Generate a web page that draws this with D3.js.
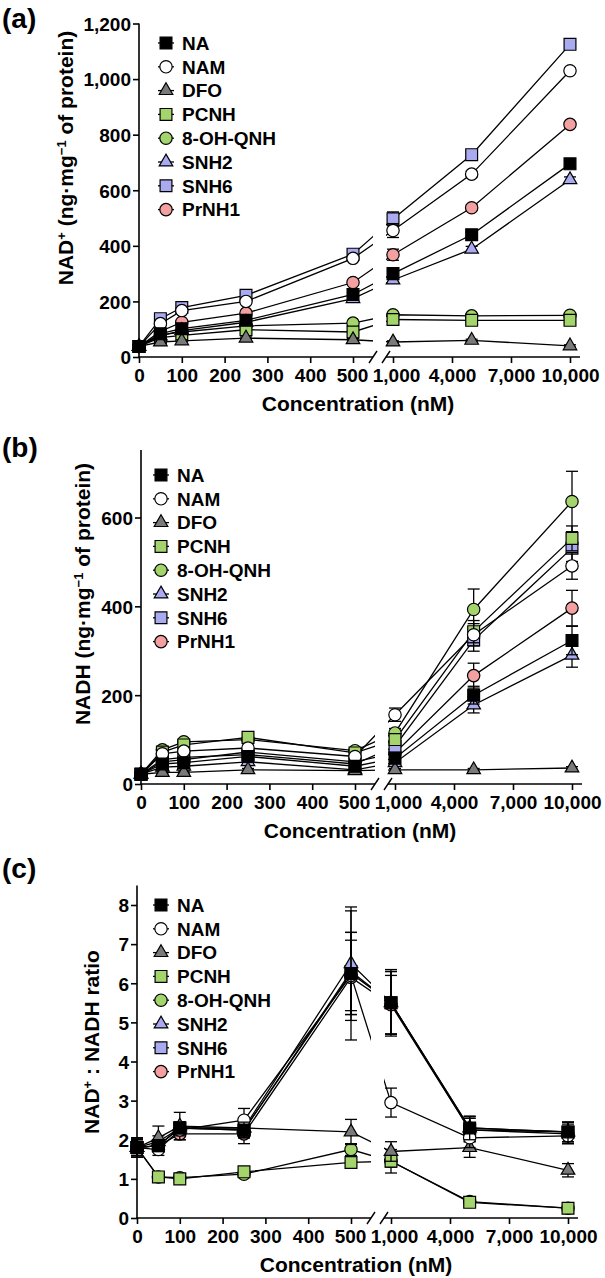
<!DOCTYPE html>
<html lang="en">
<head>
<meta charset="UTF-8">
<script src="https://cdnjs.cloudflare.com/ajax/libs/d3/7.8.5/d3.min.js"></script>
<title>NAD+ / NADH</title>
<style>
  body { margin: 0; background: #fff; }
  svg text { font-family: "Liberation Sans", Arial, sans-serif; font-weight: bold; fill: #000; }
</style>
</head>
<body>
<svg id="chart" width="605" height="1278"></svg>
<script>
    // concentrations (nM) and series
    var conc = [0, 50, 100, 250, 500, 1000, 5000, 10000];
    var seriesNames = ['NA', 'NAM', 'DFO', 'PCNH', '8-OH-QNH', 'SNH2', 'SNH6', 'PrNH1'];
    var seriesShapes = ['square', 'circle', 'triangle', 'square', 'circle', 'triangle', 'square', 'circle'];
    var seriesFills = ['#000000', '#ffffff', '#7a7a7a', '#a4d46c', '#a4d46c', '#aaaaf0', '#aaaaf0', '#f4a0a0'];

    var leftTicks = [0, 100, 200, 300, 400, 500];
    var rightTicks = [1000, 4000, 7000, 10000];

    // (a) NAD+ (ng/mg protein), rows follow seriesNames
    var nadMean = [
        [38, 84, 102, 132, 225, 300, 440, 695],
        [38, 120, 167, 200, 355, 455, 658, 1030],
        [38, 54, 58, 68, 62, 54, 60, 40],
        [38, 70, 78, 98, 90, 135, 132, 132],
        [38, 80, 90, 112, 122, 152, 148, 150],
        [38, 76, 95, 125, 210, 277, 388, 638],
        [38, 138, 178, 222, 370, 497, 728, 1125],
        [38, 92, 125, 158, 268, 368, 537, 837]
    ];
    var nadErr = [
        [5, 6, 6, 6, 8, 12, 10, 10],
        [5, 8, 8, 8, 8, 25, 10, 10],
        [4, 4, 4, 4, 4, 4, 4, 4],
        [4, 5, 5, 5, 5, 6, 6, 6],
        [4, 5, 5, 5, 6, 6, 6, 6],
        [5, 6, 6, 6, 8, 10, 10, 10],
        [5, 8, 8, 8, 8, 25, 10, 10],
        [5, 6, 6, 6, 8, 20, 10, 10]
    ];
    var nadTicks = [0, 200, 400, 600, 800, 1000, 1200];

    // (b) NADH (ng/mg protein)
    var nadhMean = [
        [22, 45, 48, 62, 40, 58, 200, 323],
        [22, 68, 74, 81, 62, 156, 336, 491],
        [22, 26, 26, 32, 30, 32, 32, 36],
        [22, 72, 88, 105, 70, 100, 343, 553],
        [22, 77, 95, 100, 75, 115, 393, 636],
        [22, 38, 40, 50, 32, 48, 178, 290],
        [22, 55, 60, 66, 45, 85, 324, 531],
        [22, 50, 55, 72, 50, 70, 244, 396]
    ];
    var nadhErr = [
        [4, 5, 5, 6, 5, 8, 20, 32],
        [4, 5, 5, 6, 5, 15, 25, 30],
        [3, 3, 3, 3, 3, 3, 3, 3],
        [4, 5, 5, 6, 5, 10, 25, 28],
        [4, 5, 5, 6, 5, 10, 46, 68],
        [4, 5, 5, 6, 5, 8, 18, 27],
        [4, 5, 5, 6, 5, 8, 25, 30],
        [4, 5, 5, 6, 5, 8, 28, 40]
    ];
    var nadhTicks = [0, 200, 400, 600];

    // (c) NAD+ : NADH ratio
    var ratioMean = [
        [1.8, 1.85, 2.3, 2.25, 6.25, 5.5, 2.3, 2.2],
        [1.8, 1.75, 2.25, 2.5, 6.2, 2.95, 2.05, 2.1],
        [1.8, 2.05, 2.35, 2.3, 2.2, 1.7, 1.8, 1.22],
        [1.8, 1.05, 1.0, 1.18, 1.42, 1.45, 0.4, 0.25],
        [1.8, 1.05, 1.03, 1.12, 1.75, 1.45, 0.42, 0.25],
        [1.8, 1.95, 2.3, 2.3, 6.5, 5.5, 2.3, 2.2],
        [1.8, 1.85, 2.3, 2.25, 6.3, 5.5, 2.25, 2.2],
        [1.8, 1.85, 2.15, 2.15, 6.15, 5.45, 2.25, 2.15]
    ];
    var ratioErr = [
        [0.25, 0.15, 0.15, 0.2, 1.05, 0.8, 0.3, 0.25],
        [0.25, 0.15, 0.15, 0.3, 1.65, 0.37, 0.25, 0.2],
        [0.25, 0.3, 0.35, 0.2, 0.32, 0.25, 0.25, 0.17],
        [0.2, 0.08, 0.08, 0.08, 0.1, 0.15, 0.05, 0.05],
        [0.2, 0.08, 0.08, 0.08, 0.15, 0.3, 0.05, 0.05],
        [0.25, 0.15, 0.15, 0.2, 1.45, 0.85, 0.3, 0.25],
        [0.25, 0.15, 0.15, 0.2, 1.0, 0.8, 0.3, 0.25],
        [0.25, 0.15, 0.15, 0.25, 0.95, 0.75, 0.3, 0.25]
    ];
    var ratioTicks = [0, 1, 2, 3, 4, 5, 6, 7, 8];


    var svg = d3.select('#chart');
    var symbolType = {
        square: { type: d3.symbolSquare, size: 140 },
        circle: { type: d3.symbolCircle, size: 120 },
        triangle: { type: d3.symbolTriangle, size: 80 }
    };

    drawPanel({
        id: 'a', tag: '(a)', tagY: 28,
        x0: 139, yBottom: 357, yTop: 23.5, yMax: 1200, yAxisTop: 1200,
        yTicks: nadTicks, titleX: 73, titleY: 158,
        title: [['NAD', 0], ['+', 1], [' (ng\u00b7mg', 0], ['\u22121', 1], [' of protein)', 0]],
        legendX: 166, legendY: 43
    }, nadMean, nadErr);

    drawPanel({
        id: 'b', tag: '(b)', tagY: 457,
        x0: 141, yBottom: 784, yTop: 517.5, yMax: 600, yAxisTop: 752,
        yTicks: nadhTicks, titleX: 90, titleY: 594,
        title: [['NADH (ng\u00b7mg', 0], ['\u22121', 1], [' of protein)', 0]],
        legendX: 161, legendY: 475
    }, nadhMean, nadhErr);

    drawPanel({
        id: 'c', tag: '(c)', tagY: 878,
        x0: 137, yBottom: 1218, yTop: 905, yMax: 8, yAxisTop: 8.5,
        yTicks: ratioTicks, titleX: 99, titleY: 1042,
        title: [['NAD', 0], ['+', 1], [' :  NADH ratio', 0]],
        legendX: 161, legendY: 905
    }, ratioMean, ratioErr);


    function drawPanel(cfg, means, errs) {
        var x0 = cfg.x0;
        var x = d3.scaleLinear()
                .domain([0, 500, 1000, 10000])
                .range([x0, x0 + 214, x0 + 254, x0 + 431]);
        var y = d3.scaleLinear()
                .domain([0, cfg.yMax])
                .range([cfg.yBottom, cfg.yTop]);
        var gapL = x0 + 234, gapR = x0 + 247;
        var g = svg.append('g').attr('id', 'panel-' + cfg.id);

        // panel tag
        g.append('text')
                .attr('x', 2).attr('y', cfg.tagY)
                .style('font-size', '28px')
                .text(cfg.tag);

        // y axis
        var yAxis = g.append('g')
                .attr('transform', 'translate(' + x0 + ',0)')
                .call(d3.axisLeft(y).tickValues(cfg.yTicks).tickSize(6).tickPadding(2)
                        .tickFormat(d3.format(',')));
        styleAxis(yAxis);
        yAxis.selectAll('text').attr('dy', '0.36em');
        g.append('line')
                .attr('x1', x0).attr('x2', x0)
                .attr('y1', cfg.yBottom + 0.75).attr('y2', y(cfg.yAxisTop))
                .attr('stroke', '#000').attr('stroke-width', 1.6);

        // x axis, two segments with a break
        [leftTicks, rightTicks].forEach(function(ticks) {
            var ax = g.append('g')
                    .attr('transform', 'translate(0,' + cfg.yBottom + ')')
                    .call(d3.axisBottom(x).tickValues(ticks).tickSize(6).tickPadding(6)
                            .tickFormat(d3.format(',')));
            styleAxis(ax);
            ax.selectAll('text').attr('dx', function(d) { return d === 1000 ? 3 : (d === 500 ? -1 : 0); });
        });
        g.append('line')
                .attr('x1', x0 - 0.75).attr('x2', gapL)
                .attr('y1', cfg.yBottom).attr('y2', cfg.yBottom)
                .attr('stroke', '#000').attr('stroke-width', 1.6);
        g.append('line')
                .attr('x1', gapR).attr('x2', x0 + 441)
                .attr('y1', cfg.yBottom).attr('y2', cfg.yBottom)
                .attr('stroke', '#000').attr('stroke-width', 1.6);
        [gapL, gapR].forEach(function(bx) {
            g.append('line')
                    .attr('x1', bx - 4).attr('y1', cfg.yBottom + 6)
                    .attr('x2', bx + 4).attr('y2', cfg.yBottom - 6)
                    .attr('stroke', '#000').attr('stroke-width', 1.4);
        });

        // x title
        g.append('text')
                .attr('x', x0 + 219).attr('y', cfg.yBottom + 54)
                .attr('text-anchor', 'middle')
                .style('font-size', '21px')
                .text('Concentration (nM)');

        // y title
        var yt = g.append('text')
                .attr('transform', 'translate(' + cfg.titleX + ',' + cfg.titleY + ') rotate(-90)')
                .attr('text-anchor', 'middle')
                .style('font-size', '21px');
        cfg.title.forEach(function(part) {
            var t = yt.append('tspan').text(part[0]);
            if (part[1]) {
                t.style('font-size', '13px').attr('baseline-shift', '55%');
            }
        });

        // clip lines across the axis break
        var clipId = 'clip-' + cfg.id;
        var clip = svg.append('defs').append('clipPath').attr('id', clipId);
        clip.append('rect').attr('x', 0).attr('y', 0).attr('width', gapL).attr('height', 1278);
        clip.append('rect').attr('x', gapR).attr('y', 0).attr('width', 605 - gapR).attr('height', 1278);

        var order = d3.range(seriesNames.length).reverse();
        var line = d3.line()
                .x(function(d) { return x(d[0]); })
                .y(function(d) { return y(d[1]); });

        var lines = g.append('g').attr('clip-path', 'url(#' + clipId + ')');
        order.forEach(function(s) {
            lines.append('path')
                    .datum(conc.map(function(c, i) { return [c, means[s][i]]; }))
                    .attr('d', line)
                    .attr('fill', 'none')
                    .attr('stroke', '#000')
                    .attr('stroke-width', 1.3);
        });

        order.forEach(function(s) {
            var pts = conc.map(function(c, i) {
                return { x: c, m: means[s][i], e: errs[s][i] };
            });
            var eb = g.append('g').attr('class', 'err');
            pts.forEach(function(p) {
                var cx = x(p.x);
                eb.append('line')
                        .attr('x1', cx).attr('x2', cx)
                        .attr('y1', y(p.m - p.e)).attr('y2', y(p.m + p.e))
                        .attr('stroke', '#000').attr('stroke-width', 1.3);
                [p.m - p.e, p.m + p.e].forEach(function(v) {
                    eb.append('line')
                            .attr('x1', cx - 6).attr('x2', cx + 6)
                            .attr('y1', y(v)).attr('y2', y(v))
                            .attr('stroke', '#000').attr('stroke-width', 1.3);
                });
            });
            g.append('g').selectAll('path')
                    .data(pts)
                    .enter().append('path')
                    .attr('transform', function(d) {
                        return 'translate(' + x(d.x) + ',' + y(d.m) + ')';
                    })
                    .attr('d', markerPath(seriesShapes[s]))
                    .attr('fill', seriesFills[s])
                    .attr('stroke', '#000')
                    .attr('stroke-width', 1.2);
        });

        // legend
        var legend = g.append('g').attr('transform', 'translate(' + cfg.legendX + ',' + cfg.legendY + ')');
        seriesNames.forEach(function(name, i) {
            var row = legend.append('g').attr('transform', 'translate(0,' + (i * 23.8) + ')');
            row.append('line')
                    .attr('x1', -8).attr('x2', 8)
                    .attr('stroke', '#000').attr('stroke-width', 1.3);
            row.append('path')
                    .attr('d', markerPath(seriesShapes[i]))
                    .attr('fill', seriesFills[i])
                    .attr('stroke', '#000')
                    .attr('stroke-width', 1.2);
            row.append('text')
                    .attr('x', 16).attr('dy', '0.36em')
                    .style('font-size', '19px')
                    .text(name);
        });
    }

    function markerPath(shape) {
        var s = symbolType[shape];
        return d3.symbol().type(s.type).size(s.size)();
    }

    function styleAxis(ax) {
        ax.attr('font-family', null).attr('font-size', null);
        ax.select('.domain').remove();
        ax.selectAll('.tick line').attr('stroke', '#000').attr('stroke-width', 1.6);
        ax.selectAll('text').style('font-size', '19px');
    }
</script>
</body>
</html>
